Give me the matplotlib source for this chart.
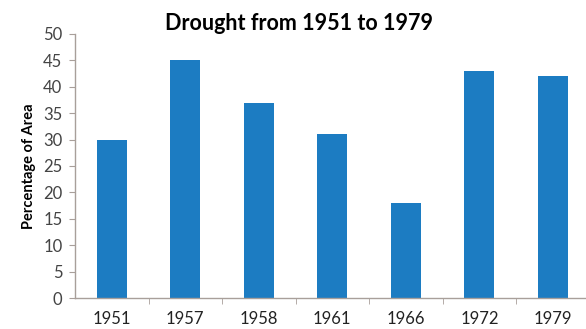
import numpy as np
import matplotlib.pyplot as plt

# Drought coverage by year
years = ["1951", "1957", "1958", "1961", "1966", "1972", "1979"]
area_pct = [30, 45, 37, 31, 18, 43, 42]

plt.rcParams["font.family"] = ["Lato", "DejaVu Sans"]

fig = plt.figure(figsize=(5.86, 3.29), dpi=100)
ax = fig.add_axes([0.128, 0.094, 0.872, 0.803])

x = np.arange(len(years))
ax.bar(x, area_pct, width=0.41, color="#1c7cc2")

ax.set_xlim(-0.5, len(years) - 0.55)
ax.set_ylim(0, 50)
ax.set_yticks(range(0, 51, 5))

# category labels centred, small ticks between categories
ax.set_xticks(x)
ax.set_xticklabels(years)
ax.set_xticks(x[:-1] + 0.5, minor=True)
ax.tick_params(axis="x", which="major", length=0, pad=9, labelsize=12, colors="#222222")
ax.tick_params(axis="x", which="minor", length=4, color="#a89f9a")
ax.tick_params(axis="y", length=4, color="#a89f9a", labelsize=12, labelcolor="#444444", pad=5)

for side in ["top", "right"]:
    ax.spines[side].set_visible(False)
for side in ["left", "bottom"]:
    ax.spines[side].set_color("#a89f9a")
    ax.spines[side].set_linewidth(1)

ax.set_ylabel("Percentage of Area", fontsize=10.5, fontweight="bold", labelpad=5)
fig.text(0.51, 0.93, "Drought from 1951 to 1979", ha="center", va="center",
         fontsize=15.5, fontweight="bold")

plt.savefig("out.png", dpi=100)
